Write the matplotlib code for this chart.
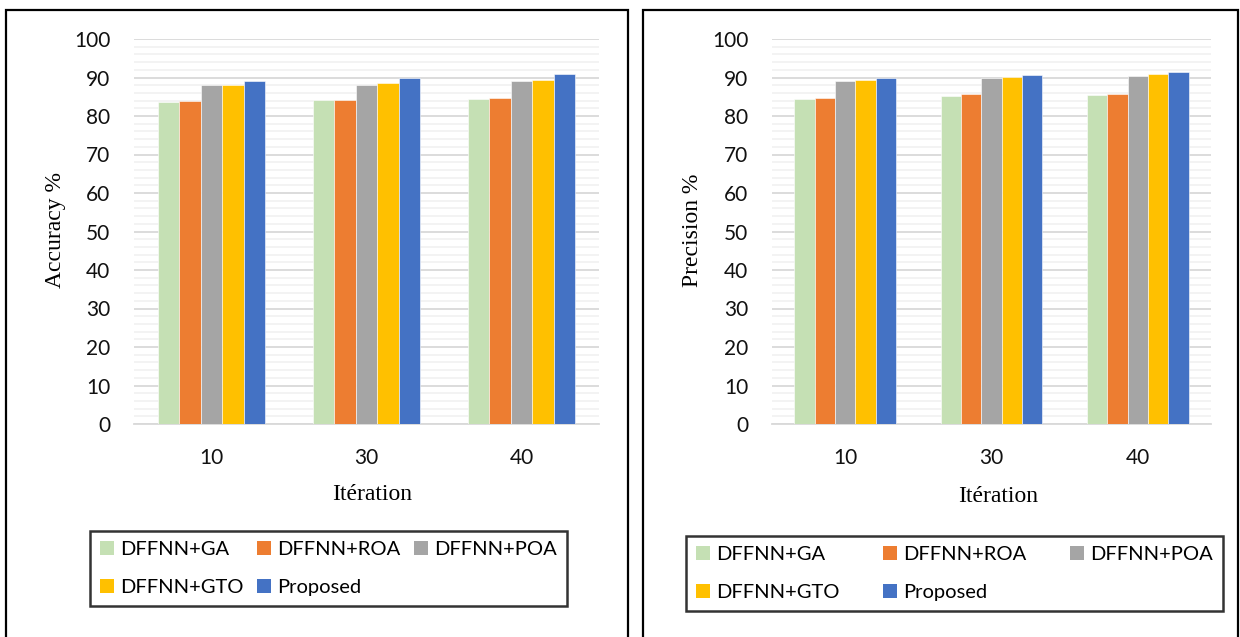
import matplotlib
matplotlib.use("Agg")
import matplotlib.pyplot as plt
from matplotlib.patches import Rectangle, Patch
import numpy as np

# Data
iterations = ["10", "30", "40"]
methods = ["DFFNN+GA", "DFFNN+ROA", "DFFNN+POA", "DFFNN+GTO", "Proposed"]
colors = ["#C5E0B4", "#ED7D31", "#A5A5A5", "#FFC000", "#4472C4"]

accuracy = {
    "DFFNN+GA":  [83.6, 84.1, 84.3],
    "DFFNN+ROA": [84.0, 84.2, 84.6],
    "DFFNN+POA": [88.0, 88.1, 89.0],
    "DFFNN+GTO": [88.1, 88.7, 89.4],
    "Proposed":  [89.1, 89.9, 90.8],
}
precision = {
    "DFFNN+GA":  [84.4, 85.2, 85.4],
    "DFFNN+ROA": [84.8, 85.6, 85.8],
    "DFFNN+POA": [89.1, 89.9, 90.4],
    "DFFNN+GTO": [89.3, 90.1, 90.8],
    "Proposed":  [89.9, 90.6, 91.4],
}

W, H = 1240, 637
fig = plt.figure(figsize=(W / 100, H / 100), dpi=100)
fig.patch.set_facecolor("white")

TICK_FONT = "Lato"
LABEL_FONT = "Liberation Serif"


def px_axes(x0, x1, ytop, ybot):
    return fig.add_axes([x0 / W, (H - ybot) / H, (x1 - x0) / W, (ybot - ytop) / H])


def draw_panel(ax, data):
    x = np.arange(len(iterations))
    bw = 0.1387
    for i, m in enumerate(methods):
        ax.bar(x + (i - 2) * bw, data[m], width=bw, color=colors[i],
               edgecolor="white", linewidth=0.4, zorder=3)
    ax.set_xlim(-0.5, len(iterations) - 0.5)
    ax.set_ylim(0, 100)
    ax.set_yticks(np.arange(0, 101, 10))
    ax.set_yticks(np.arange(0, 101, 2), minor=True)
    ax.grid(axis="y", which="minor", color="#f2f2f2", linewidth=1.3, zorder=0)
    ax.grid(axis="y", which="major", color="#d9d9d9", linewidth=1.3, zorder=1)
    ax.set_xticks(x)
    ax.set_xticklabels(iterations)
    for s in ["top", "right", "left"]:
        ax.spines[s].set_visible(False)
    ax.spines["bottom"].set_color("#d9d9d9")
    ax.spines["bottom"].set_linewidth(1.3)
    ax.tick_params(axis="both", which="both", length=0)
    ax.tick_params(axis="y", pad=17)
    ax.tick_params(axis="x", pad=17)
    for lab in ax.get_xticklabels() + ax.get_yticklabels():
        lab.set_fontfamily(TICK_FONT)
        lab.set_fontsize(15)
        lab.set_color("#111111")
    ax.set_axisbelow(True)


axL = px_axes(134, 599, 39, 424)
draw_panel(axL, accuracy)
axR = px_axes(772, 1211, 39, 424)
draw_panel(axR, precision)

# Axis titles
fig.text(55 / W, 1 - 230 / H, "Accuracy %", rotation=90, ha="center", va="center",
         fontfamily=LABEL_FONT, fontsize=17)
fig.text(692 / W, 1 - 230 / H, "Precision %", rotation=90, ha="center", va="center",
         fontfamily=LABEL_FONT, fontsize=17)
fig.text(372 / W, 1 - 495 / H, "Itération", ha="center", va="center",
         fontfamily=LABEL_FONT, fontsize=17)
fig.text(998 / W, 1 - 497 / H, "Itération", ha="center", va="center",
         fontfamily=LABEL_FONT, fontsize=17)

# Panel frames
for x0, x1 in [(6, 628), (643, 1238)]:
    fig.patches.append(Rectangle((x0 / W, -0.01), (x1 - x0) / W, (H - 10) / H + 0.01,
                                 transform=fig.transFigure, fill=False,
                                 edgecolor="black", linewidth=1.6))

# Legend entries laid out row by row across three columns
order = [0, 3, 1, 4, 2]
handles = [Patch(facecolor=colors[i], edgecolor="none") for i in order]
labels = [methods[i] for i in order]


def draw_legend(x0, x1, ytop, ybot):
    leg = fig.legend(handles, labels, ncol=3, loc="upper left",
                     bbox_to_anchor=(x0 / W, (H - ybot) / H, (x1 - x0) / W, (ybot - ytop) / H),
                     mode="expand",
                     prop={"family": TICK_FONT, "size": 14.5},
                     frameon=True, fancybox=False, edgecolor="black",
                     handlelength=0.7, handleheight=0.7, handletextpad=0.3,
                     labelspacing=1.05, borderpad=0.5, borderaxespad=0)
    leg.get_frame().set_linewidth(1.8)
    return leg


draw_legend(90, 567, 531, 606)
draw_legend(686, 1223, 536, 610)

fig.savefig("out.png", dpi=100, facecolor="white")
